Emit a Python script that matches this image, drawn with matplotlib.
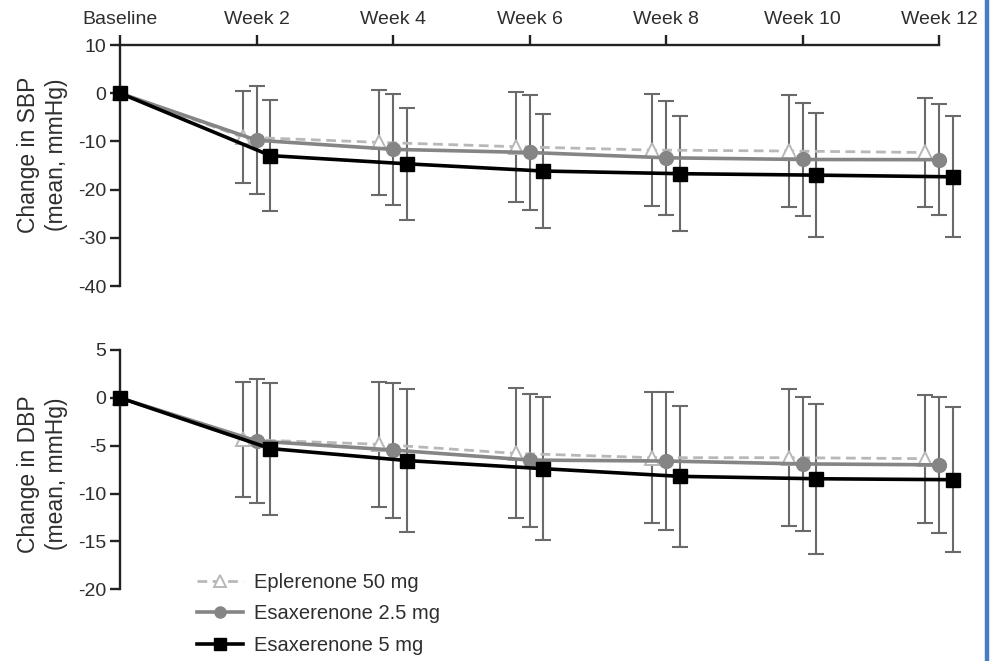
import numpy as np
import matplotlib
matplotlib.use('Agg')
import matplotlib.pyplot as plt
from matplotlib.lines import Line2D

plt.rcParams['font.family'] = ['Liberation Sans', 'DejaVu Sans']
plt.rcParams['axes.unicode_minus'] = False

weeks = [0, 2, 4, 6, 8, 10, 12]
week_labels = ['Baseline', 'Week 2', 'Week 4', 'Week 6', 'Week 8', 'Week 10', 'Week 12']
series_names = ['Eplerenone 50 mg', 'Esaxerenone 2.5 mg', 'Esaxerenone 5 mg']

# change in SBP (mean) and SD
epl_sbp = [0, -9.1, -10.2, -11.1, -11.8, -12.0, -12.3]
epl_sbp_sd = [0, 9.6, 10.9, 11.4, 11.55, 11.7, 11.4]
esa25_sbp = [0, -9.75, -11.65, -12.3, -13.4, -13.75, -13.8]
esa25_sbp_sd = [0, 11.15, 11.45, 11.9, 11.8, 11.75, 11.5]
esa5_sbp = [0, -12.95, -14.65, -16.15, -16.7, -17.0, -17.35]
esa5_sbp_sd = [0, 11.55, 11.65, 11.75, 11.9, 12.9, 12.55]

# change in DBP (mean) and SD
epl_dbp = [0, -4.35, -4.85, -5.8, -6.25, -6.25, -6.35]
epl_dbp_sd = [0, 6.05, 6.55, 6.8, 6.85, 7.15, 6.7]
esa25_dbp = [0, -4.5, -5.45, -6.5, -6.6, -6.9, -7.0]
esa25_dbp_sd = [0, 6.5, 7.05, 6.95, 7.2, 7.0, 7.1]
esa5_dbp = [0, -5.3, -6.55, -7.4, -8.2, -8.45, -8.55]
esa5_dbp_sd = [0, 6.9, 7.45, 7.5, 7.4, 7.85, 7.55]

text_col = '#2e2e2e'
err_col = '#6a6a6a'
shift = 0.205

styles = [
    dict(color='#b8b8b8', ls=(0, (3.5, 2.0)), lw=2.0, marker='^', mfc='white',
         mec='#b8b8b8', ms=10, mew=1.4, z=2, dx=-shift),
    dict(color='#858585', ls='-', lw=2.6, marker='o', mfc='#858585',
         mec='#858585', ms=10, mew=1, z=3, dx=0.0),
    dict(color='#000000', ls='-', lw=2.6, marker='s', mfc='#000000',
         mec='#000000', ms=10, mew=1, z=4, dx=shift),
]

fig = plt.figure(figsize=(9.96, 6.61), dpi=100)
ax1 = fig.add_axes([120 / 996, 1 - 286 / 661, 819 / 996, 241 / 661])
ax2 = fig.add_axes([120 / 996, 1 - 589.3 / 661, 819 / 996, 239.3 / 661])


def draw(ax, data):
    handles = []
    for (mean, sd), st in zip(data, styles):
        x = np.array(weeks, dtype=float)
        x[1:] += st['dx']
        m = np.array(mean)
        s = np.array(sd)
        ax.errorbar(x[1:], m[1:], yerr=s[1:], fmt='none', ecolor=err_col,
                    elinewidth=1.5, capsize=6, capthick=1.5,
                    zorder=1, clip_on=False)
        h, = ax.plot(x, m, color=st['color'], ls=st['ls'], lw=st['lw'],
                     marker=st['marker'], mfc=st['mfc'], mec=st['mec'],
                     ms=st['ms'], mew=st['mew'], zorder=st['z'], clip_on=False)
        handles.append(h)
    ax.set_xlim(0, 12)
    for side in ['right', 'bottom']:
        ax.spines[side].set_visible(False)
    ax.spines['left'].set_linewidth(1.7)
    ax.spines['left'].set_color('#222222')
    ax.tick_params(axis='y', length=7, width=1.7, color='#222222',
                   labelsize=14, labelcolor=text_col, pad=3)
    return handles


draw(ax1, [(epl_sbp, epl_sbp_sd), (esa25_sbp, esa25_sbp_sd), (esa5_sbp, esa5_sbp_sd)])
ax1.set_ylim(-40, 10)
ax1.set_yticks([10, 0, -10, -20, -30, -40])
ax1.spines['top'].set_linewidth(1.7)
ax1.spines['top'].set_color('#222222')
ax1.xaxis.tick_top()
ax1.set_xticks(weeks)
ax1.set_xticklabels(week_labels)
ax1.tick_params(axis='x', length=7, width=1.7, color='#222222',
                labelsize=14, labelcolor=text_col, pad=5)

handles = draw(ax2, [(epl_dbp, epl_dbp_sd), (esa25_dbp, esa25_dbp_sd), (esa5_dbp, esa5_dbp_sd)])
ax2.set_ylim(-20, 5)
ax2.set_yticks([5, 0, -5, -10, -15, -20])
ax2.spines['top'].set_visible(False)
ax2.set_xticks([])

for ypix, name in [(155, 'Change in SBP'), (474, 'Change in DBP')]:
    fig.text(29 / 996, 1 - ypix / 661, name, rotation=90, ha='center', va='center',
             fontsize=16.5, color=text_col)
    fig.text(57 / 996, 1 - ypix / 661, '(mean, mmHg)', rotation=90, ha='center',
             va='center', fontsize=16.5, color=text_col)

leg = fig.legend(handles, series_names, loc='upper left',
                 bbox_to_anchor=(197 / 996, 1 - 573 / 661), frameon=False,
                 fontsize=14.5, handlelength=2.3, handletextpad=0.55,
                 labelspacing=0.62, markerscale=0.8, borderpad=0, borderaxespad=0)
for t in leg.get_texts():
    t.set_color(text_col)

# blue frame edge on the right
fig.add_artist(Line2D([987 / 996, 987 / 996], [0, 1], color='#4a7cc4', lw=3.2,
                      transform=fig.transFigure))

fig.savefig('out.png', dpi=100)
